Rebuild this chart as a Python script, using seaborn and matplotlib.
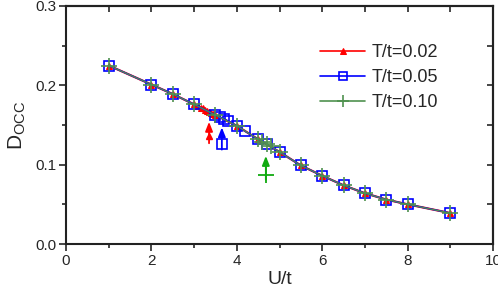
"""
Double occupancy D_occ vs U/t for three temperatures, with arrows marking transition points.
"""
import matplotlib
matplotlib.use("Agg")
import matplotlib.pyplot as plt
from matplotlib.ticker import MultipleLocator
import seaborn as sns

# data
u_002 = [1, 2, 2.5, 3, 3.1, 3.15, 3.2, 3.25, 3.3, 3.35, 3.4, 3.45, 3.5, 4, 4.5, 5, 5.5, 6, 6.5, 7, 7.5, 8, 9]
d_002 = [0.225, 0.201, 0.189, 0.176, 0.1735, 0.172, 0.171, 0.1695, 0.168, 0.167, 0.1655, 0.164, 0.1625,
         0.149, 0.132, 0.116, 0.099, 0.086, 0.074, 0.064, 0.056, 0.050, 0.039]

u_005 = [1, 2, 2.5, 3, 3.5, 3.6, 3.7, 3.8, 4, 4.2, 4.5, 4.7, 5, 5.5, 6, 6.5, 7, 7.5, 8, 9]
d_005 = [0.225, 0.201, 0.189, 0.176, 0.1625, 0.160, 0.1575, 0.155, 0.149, 0.142, 0.132, 0.126,
         0.116, 0.099, 0.086, 0.074, 0.064, 0.056, 0.050, 0.039]

u_010 = [1, 2, 2.5, 3, 3.5, 4, 4.5, 4.6, 4.7, 4.8, 5, 5.5, 6, 6.5, 7, 7.5, 8, 9]
d_010 = [0.225, 0.201, 0.189, 0.176, 0.1625, 0.149, 0.132, 0.129, 0.126, 0.123, 0.116, 0.099,
         0.086, 0.074, 0.064, 0.056, 0.050, 0.039]

labels = ["T/t=0.02", "T/t=0.05", "T/t=0.10"]

# transition arrows: x, arrow top, marker y, arrow bottom
arrow_x = [3.35, 3.65, 4.68]
arrow_top = [0.154, 0.147, 0.111]
arrow_mark = [0.136, 0.126, 0.087]
arrow_bottom = [0.127, 0.119, 0.081]

sns.set_style("ticks")
plt.rcParams["font.family"] = ["Liberation Sans", "DejaVu Sans"]
plt.rcParams["mathtext.default"] = "regular"

fig = plt.figure(figsize=(4.98, 2.90), dpi=100)
ax = fig.add_axes([66 / 498, 1 - 244 / 290, 427 / 498, 238 / 290])

red, blue, green = "#ff0000", "#0000ff", "#4f914f"

sns.lineplot(x=u_002, y=d_002, ax=ax, color=red, lw=1.6, marker="^", markersize=5,
             markeredgecolor=red, markerfacecolor=red, label=labels[0], zorder=2)
sns.lineplot(x=u_005, y=d_005, ax=ax, color=blue, lw=1.2, marker="s", markersize=7,
             markeredgecolor=blue, markerfacecolor="none", markeredgewidth=1.2, label=labels[1], zorder=3)
sns.lineplot(x=u_010, y=d_010, ax=ax, color=green, lw=0.9, marker="+", markersize=11,
             markeredgecolor=green, markeredgewidth=1.2, label=labels[2], zorder=4)

arrow_colors = [red, blue, "#11aa11"]
arrow_markers = [
    dict(marker="^", markersize=5, markerfacecolor=red, markeredgecolor=red),
    dict(marker="s", markersize=6.5, markerfacecolor="none", markeredgecolor=blue, markeredgewidth=1.2),
    dict(marker="+", markersize=12, markeredgecolor="#11aa11", markeredgewidth=1.3),
]
for x, top, mk, bot, c, mkw in zip(arrow_x, arrow_top, arrow_mark, arrow_bottom, arrow_colors, arrow_markers):
    ax.annotate("", xy=(x, top), xytext=(x, bot),
                arrowprops=dict(arrowstyle="-|>,head_length=0.5,head_width=0.2", color=c, lw=1.3,
                                mutation_scale=11, shrinkA=0, shrinkB=0), zorder=5)
    ax.plot([x], [mk], linestyle="none", zorder=5, **mkw)

ax.set_xlim(0, 10)
ax.set_ylim(0, 0.3)
ax.xaxis.set_major_locator(MultipleLocator(2))
ax.xaxis.set_minor_locator(MultipleLocator(1))
ax.yaxis.set_major_locator(MultipleLocator(0.1))
ax.yaxis.set_minor_locator(MultipleLocator(0.05))
ax.tick_params(which="major", direction="out", length=5, width=1.2, labelsize=11, pad=2)
ax.tick_params(which="minor", direction="out", length=3, width=1.2)

# mirrored inward ticks on top and right
top = ax.secondary_xaxis("top")
top.xaxis.set_major_locator(MultipleLocator(1))
top.tick_params(direction="in", length=4, width=1.2, labeltop=False)
right = ax.secondary_yaxis("right")
right.yaxis.set_major_locator(MultipleLocator(0.05))
right.tick_params(direction="in", length=4, width=1.2, labelright=False)

for s in list(ax.spines.values()) + [top.spines["top"], right.spines["right"]]:
    s.set_linewidth(1.5)
    s.set_color("#222222")

ax.set_xlabel("U/t", fontsize=14, labelpad=2)
ax.set_ylabel("D$_{OCC}$", fontsize=15, labelpad=5)

leg = ax.legend(loc="upper left", bbox_to_anchor=(0.595, 0.84), frameon=False, fontsize=13,
                handlelength=2.5, handletextpad=0.35, labelspacing=0.45, borderpad=0, borderaxespad=0,
                markerscale=0.8)
for line in leg.get_lines():
    line.set_linewidth(1.2)

fig.savefig("out.png", dpi=100)
